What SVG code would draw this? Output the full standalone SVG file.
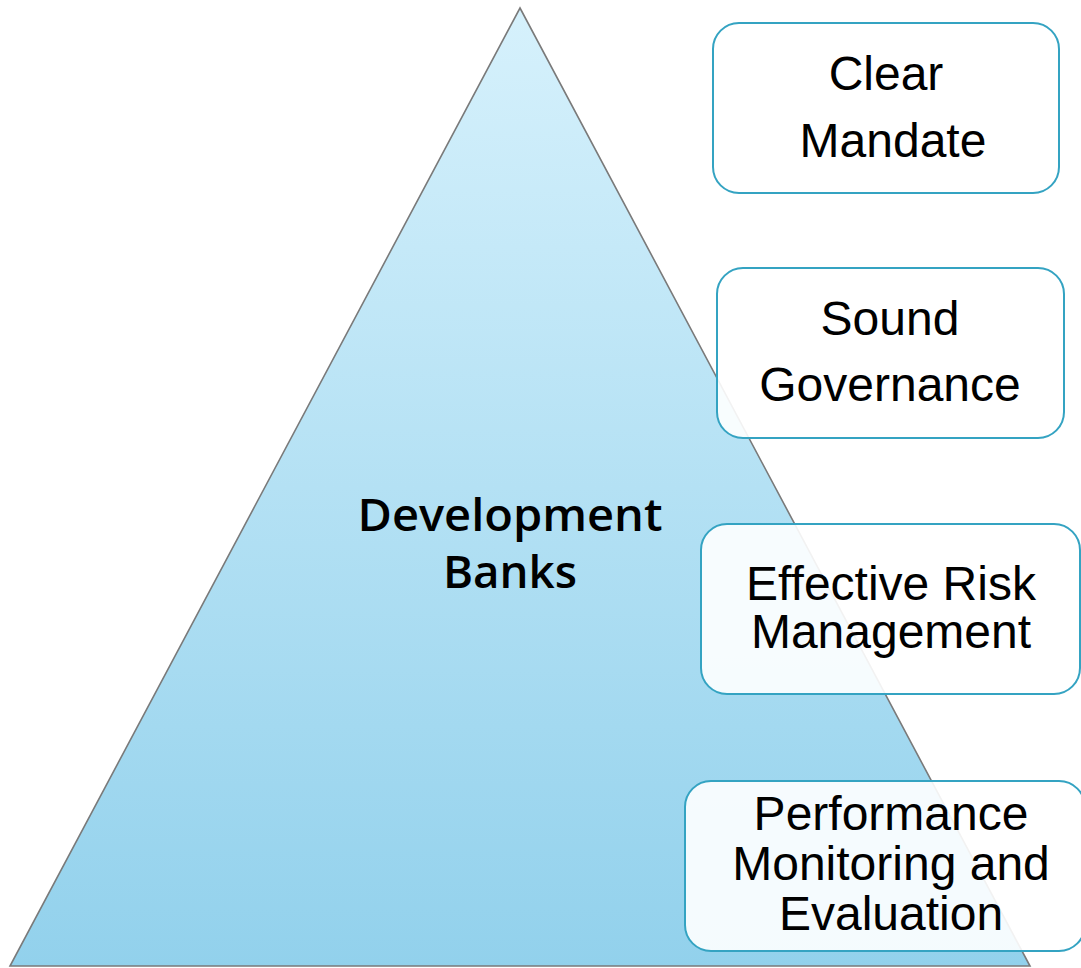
<svg xmlns="http://www.w3.org/2000/svg" width="1081" height="968" viewBox="0 0 1081 968">
  <defs>
    <linearGradient id="pyramidFill" x1="0" y1="0" x2="0" y2="1">
      <stop offset="0" stop-color="#D6F1FC"/>
      <stop offset="1" stop-color="#92D1EC"/>
    </linearGradient>
    <style>
      .pyramid { fill: url(#pyramidFill); stroke: #7A7A7A; stroke-width: 1.6; }
      .card { fill: #FFFFFF; fill-opacity: 0.9; stroke: #34A3C2; stroke-width: 2; }
      .label { font-family: "Liberation Sans", Arial, sans-serif; font-size: 48px; fill: #000000; text-anchor: middle; }
      .title { font-family: "Open Sans", "DejaVu Sans", sans-serif; font-weight: 600; font-size: 46px; fill: #000000; text-anchor: middle; }
    </style>
  </defs>
  <rect width="1081" height="968" fill="#FFFFFF"/>

  <g id="pyramid">
    <polygon class="pyramid" points="520,8 1030,966 10,966"/>
    <text class="title" x="510" y="531" textLength="305" lengthAdjust="spacingAndGlyphs">Development</text>
    <text class="title" x="510" y="588" textLength="134" lengthAdjust="spacingAndGlyphs">Banks</text>
  </g>

  <g id="connectors"></g>

  <g id="clear-mandate">
    <rect class="card" x="713" y="23" width="346" height="170" rx="26"/>
    <text class="label" x="886" y="90" font-size="49">Clear</text>
    <text class="label" x="893" y="157" font-size="49">Mandate</text>
  </g>

  <g id="sound-governance">
    <rect class="card" x="717" y="268" width="347" height="170" rx="26"/>
    <text class="label" x="890" y="335" font-size="49">Sound</text>
    <text class="label" x="890" y="401" font-size="49">Governance</text>
  </g>

  <g id="risk-management">
    <rect class="card" x="701" y="524" width="379" height="170" rx="26"/>
    <text class="label" x="891" y="600">Effective Risk</text>
    <text class="label" x="891" y="648">Management</text>
  </g>

  <g id="performance-monitoring">
    <rect class="card" x="685" y="781" width="400" height="170" rx="26"/>
    <text class="label" x="891" y="830">Performance</text>
    <text class="label" x="891" y="880">Monitoring and</text>
    <text class="label" x="891" y="930">Evaluation</text>
  </g>
</svg>
